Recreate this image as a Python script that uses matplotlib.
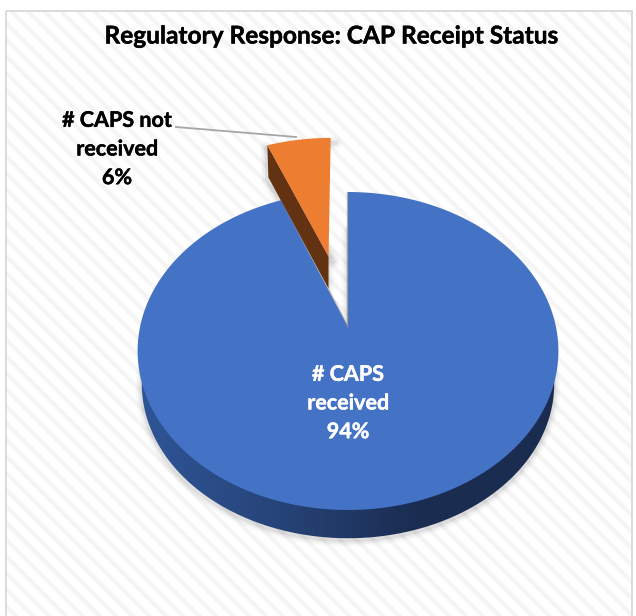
#plot.py
import numpy as np
import matplotlib
matplotlib.use('Agg')
import matplotlib.pyplot as plt
import matplotlib.patheffects as pe
from matplotlib.patches import Polygon, Rectangle
from matplotlib.colors import LinearSegmentedColormap

plt.rcParams['font.family'] = ['Lato', 'DejaVu Sans']
plt.rcParams['hatch.linewidth'] = 3.0

title = 'Regulatory Response: CAP Receipt Status'
labels = ['# CAPS\nreceived', '# CAPS not\nreceived']
values = [94, 6]
colors = ['#4472C4', '#ED7D31']

# perspective of the pie, pixels
cx, cy = 348, 327
rim_x = 208
rim_a = -106
rim_c = 0.151
depth = 32
explode = 0.48

fig = plt.figure(figsize=(6.36, 6.16), dpi=100)
ax = fig.add_axes([0, 0, 1, 1])
ax.set_xlim(0, 636)
ax.set_ylim(616, 0)
ax.axis('off')


def project(u, v):
    w = rim_c * v + 1
    return cx + rim_x * u / w, (rim_a * v + cy) / w


def wedge(start, end, shift=0.0):
    # angles are clockwise from 12 o'clock, degrees
    t = np.radians(np.linspace(start, end, 200))
    mid = np.radians((start + end) / 2)
    u0, v0 = shift * np.sin(mid), shift * np.cos(mid)
    u = np.concatenate([[u0], u0 + np.sin(t), [u0]])
    v = np.concatenate([[v0], v0 + np.cos(t), [v0]])
    x, y = project(u, v)
    return np.column_stack([x, y])


def lower_face(xy):
    # bottom of the pie is a bit smaller than the top
    return np.column_stack([cx + (xy[:, 0] - cx) * 0.98, 351 + (xy[:, 1] - 351) * 0.97 + 33])


def soft_shadow(xy, off=(1, 3)):
    for lw, a in [(9, 0.025), (6, 0.04), (3, 0.07)]:
        ax.add_patch(Polygon(xy + list(off), closed=True, fc='none', ec='black', lw=lw,
                             alpha=a, zorder=2, joinstyle='round'))


# background
ax.add_patch(Rectangle((0, 0), 636, 616, fc='white', ec='none', zorder=0))
ax.add_patch(Rectangle((5.5, 10.5), 626, 620, fc='white', ec='#f5f5f5', hatch='\\\\', lw=0, zorder=0.5))
ax.add_patch(Rectangle((5.5, 10.5), 626, 620, fc='none', ec='#d9d9d9', lw=1.3, zorder=1))

shares = np.array(values) / sum(values) * 360
blue = wedge(0, shares[0])
orange = wedge(-shares[1], 0, explode) + [-2, -2]

# blue side wall, the top face hides all but the front of it
bottom = lower_face(blue)
soft_shadow(bottom, off=(0, 2))
wall = LinearSegmentedColormap.from_list('wall', ['#2F5597', '#264478', '#1A2C50', '#1A2C50'])
img = ax.imshow(np.linspace(0, 1, 256)[None, :], extent=(138, 559, 560, 200), cmap=wall,
                aspect='auto', zorder=3)
clip = Polygon(bottom, closed=True, transform=ax.transData, fc='none', ec='none')
ax.add_patch(clip)
img.set_clip_path(clip)
ax.set_xlim(0, 636)
ax.set_ylim(616, 0)
ax.add_patch(Polygon(blue, closed=True, fc=colors[0], ec='none', zorder=4))

# grey rim on the two cut edges of the blue slice
ax.plot(blue[[1, 0], 0] - 0.7, blue[[1, 0], 1], color='#8c8c8c', lw=1.0, alpha=0.7, zorder=4.5)
ax.plot(blue[[-2, 0], 0] + 0.8, blue[[-2, 0], 1] + 1, color='#c9c9c9', lw=1.5, zorder=3.9)

# exploded slice, cut edge of the left side shows below the top face
tip, corner = orange[0], orange[1]
side = np.array([corner, tip, tip + [0, depth], corner + [1, depth]])
soft_shadow(np.vstack([side[:2], orange[1:-1]]), off=(5, 5))
soft_shadow(side, off=(-1, 2))
ax.add_patch(Polygon(side, closed=True, fc='#633212', ec='none', zorder=5))
ax.add_patch(Polygon(orange, closed=True, fc=colors[1], ec='none', zorder=6))

ax.plot([176, 296], [127, 137], color='#a6a6a6', lw=1.3, zorder=7)

bold = [pe.withStroke(linewidth=0.3, foreground='black')]
bold_w = [pe.withStroke(linewidth=0.3, foreground='white')]
ax.text(331, 36, title, fontsize=17.6, fontweight='bold', ha='center', va='center', color='black',
        path_effects=bold, zorder=8)
ax.text(117, 149, f'{labels[1]}\n{values[1]}%', fontsize=15.5, fontweight='bold', ha='center', va='center',
        color='black', linespacing=1.45, path_effects=bold, zorder=8)
ax.text(348, 403, f'{labels[0]}\n{values[0]}%', fontsize=15.5, fontweight='bold', ha='center', va='center',
        color='white', linespacing=1.45, path_effects=bold_w, zorder=8)

fig.savefig('out.png', dpi=100)
